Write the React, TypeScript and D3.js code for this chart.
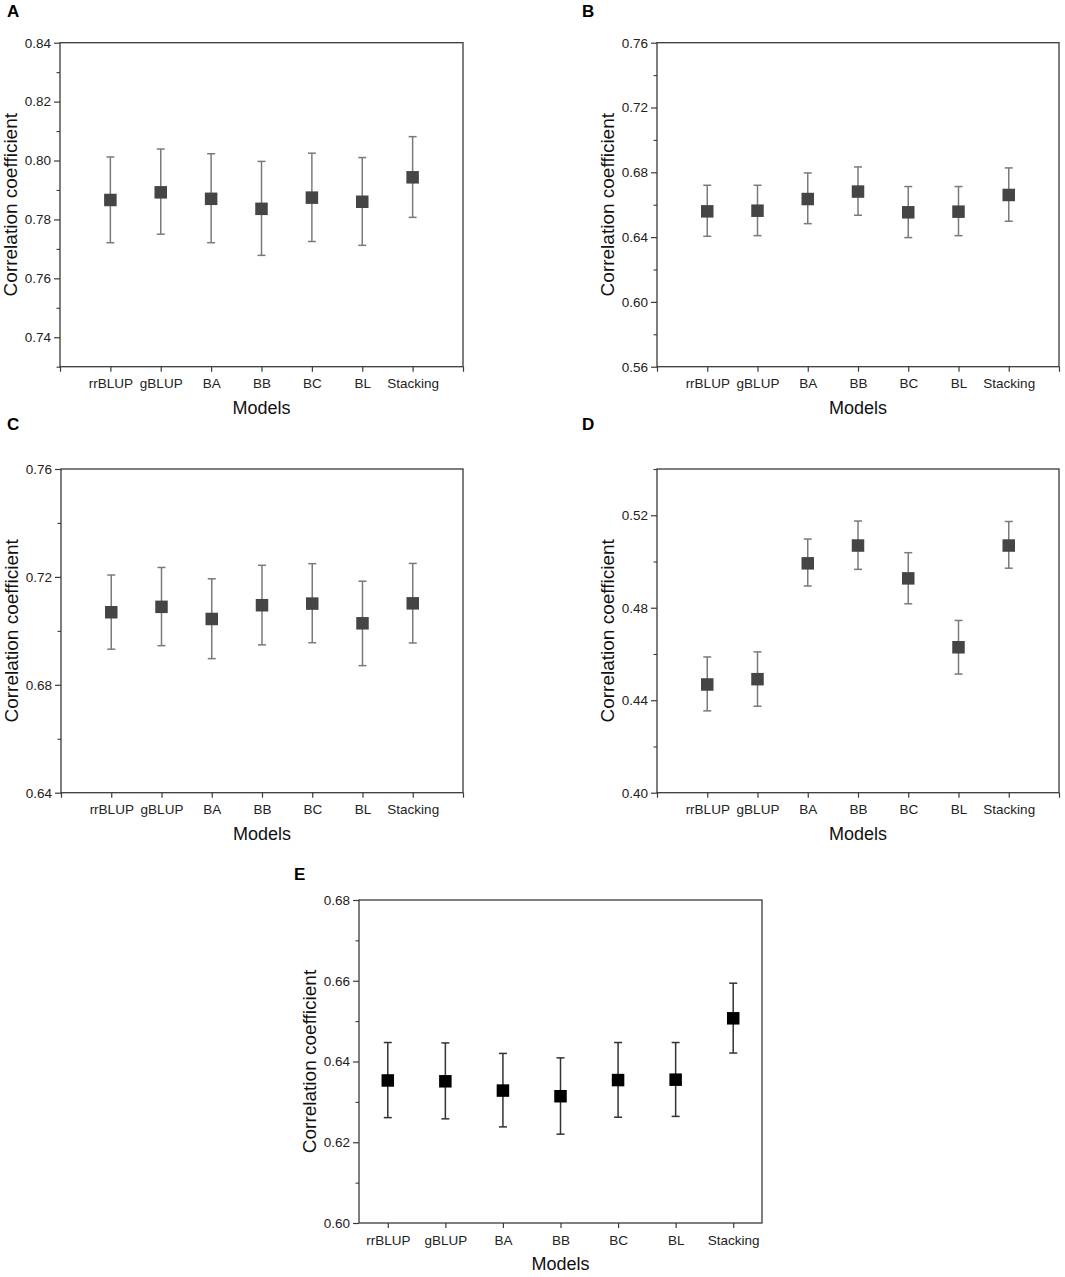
import React, { useEffect, useRef } from 'react';
import * as d3 from 'd3';

const models = ['rrBLUP', 'gBLUP', 'BA', 'BB', 'BC', 'BL', 'Stacking'];

// A
const meanA = [0.7866, 0.7892, 0.787, 0.7836, 0.7874, 0.786, 0.7943];
const upperA = [0.8012, 0.8039, 0.8023, 0.7997, 0.8025, 0.801, 0.8081];
const lowerA = [0.7721, 0.775, 0.7721, 0.7678, 0.7725, 0.7712, 0.7807];
const domainA = [0.73, 0.84];
const ticksA = [0.74, 0.76, 0.78, 0.8, 0.82, 0.84];
const minorA = [0.73, 0.75, 0.77, 0.79, 0.81, 0.83];

// B
const meanB = [0.6559, 0.6563, 0.6635, 0.6681, 0.6553, 0.6557, 0.666];
const upperB = [0.672, 0.672, 0.6796, 0.6833, 0.6712, 0.6712, 0.6827];
const lowerB = [0.6405, 0.6409, 0.6483, 0.6535, 0.6397, 0.6409, 0.6498];
const domainB = [0.56, 0.76];
const ticksB = [0.56, 0.6, 0.64, 0.68, 0.72, 0.76];
const minorB = [0.58, 0.62, 0.66, 0.7, 0.74];

// C
const meanC = [0.7069, 0.7089, 0.7044, 0.7095, 0.7101, 0.7028, 0.7102];
const upperC = [0.7207, 0.7235, 0.7193, 0.7243, 0.7249, 0.7184, 0.725];
const lowerC = [0.6932, 0.6945, 0.6897, 0.6948, 0.6956, 0.6871, 0.6955];
const domainC = [0.64, 0.76];
const ticksC = [0.64, 0.68, 0.72, 0.76];
const minorC = [0.66, 0.7, 0.74];

// D
const meanD = [0.4468, 0.4491, 0.4992, 0.5069, 0.4927, 0.4629, 0.5069];
const upperD = [0.4587, 0.4609, 0.5097, 0.5175, 0.5038, 0.4745, 0.5173];
const lowerD = [0.4354, 0.4374, 0.4894, 0.4966, 0.4817, 0.4513, 0.4971];
const domainD = [0.4, 0.54];
const ticksD = [0.4, 0.44, 0.48, 0.52];
const minorD = [0.42, 0.46, 0.5, 0.54];

// E
const meanE = [0.6353, 0.6351, 0.6328, 0.6314, 0.6354, 0.6355, 0.6507];
const upperE = [0.6447, 0.6446, 0.642, 0.6409, 0.6447, 0.6447, 0.6594];
const lowerE = [0.6261, 0.6258, 0.6238, 0.622, 0.6262, 0.6264, 0.6421];
const domainE = [0.6, 0.68];
const ticksE = [0.6, 0.62, 0.64, 0.66, 0.68];
const minorE = [0.61, 0.63, 0.65, 0.67];

const FONT = '"Liberation Sans", Arial, Helvetica, sans-serif';

interface PanelCfg {
  label: string;
  mean: number[];
  upper: number[];
  lower: number[];
  domain: number[];
  ticks: number[];
  minor: number[];
  box: { left: number; right: number; top: number; bottom: number };
  labelPos: [number, number];
  band: boolean;
  markerColor: string;
  barColor: string;
}

const panels: PanelCfg[] = [
  { label: 'A', mean: meanA, upper: upperA, lower: lowerA, domain: domainA, ticks: ticksA, minor: minorA,
    box: { left: 60, right: 463, top: 42.7, bottom: 366.7 }, labelPos: [7, 17], band: false,
    markerColor: '#454545', barColor: '#7a7a7a' },
  { label: 'B', mean: meanB, upper: upperB, lower: lowerB, domain: domainB, ticks: ticksB, minor: minorB,
    box: { left: 657, right: 1059, top: 42.7, bottom: 366.7 }, labelPos: [582, 17], band: false,
    markerColor: '#454545', barColor: '#7a7a7a' },
  { label: 'C', mean: meanC, upper: upperC, lower: lowerC, domain: domainC, ticks: ticksC, minor: minorC,
    box: { left: 61, right: 463, top: 469, bottom: 792.7 }, labelPos: [7, 430], band: false,
    markerColor: '#454545', barColor: '#7a7a7a' },
  { label: 'D', mean: meanD, upper: upperD, lower: lowerD, domain: domainD, ticks: ticksD, minor: minorD,
    box: { left: 657, right: 1059, top: 469, bottom: 792.7 }, labelPos: [582, 430], band: false,
    markerColor: '#454545', barColor: '#7a7a7a' },
  { label: 'E', mean: meanE, upper: upperE, lower: lowerE, domain: domainE, ticks: ticksE, minor: minorE,
    box: { left: 359, right: 762, top: 900, bottom: 1223 }, labelPos: [294, 880], band: true,
    markerColor: '#000000', barColor: '#333333' },
];

function drawPanel(svg: d3.Selection<SVGSVGElement, unknown, null, undefined>, cfg: PanelCfg) {
  const { left, right, top, bottom } = cfg.box;
  const g = svg.append('g').style('font-family', FONT);

  const x = d3.scaleLinear()
    .domain(cfg.band ? [0.5, models.length + 0.5] : [0, models.length + 1])
    .range([left, right]);
  const y = d3.scaleLinear().domain(cfg.domain).range([bottom, top]);

  // frame
  g.append('rect')
    .attr('x', left).attr('y', top)
    .attr('width', right - left).attr('height', bottom - top)
    .attr('fill', 'none').attr('stroke', '#3a3a3a').attr('stroke-width', 1.3);

  // y axis major
  const yAxis = g.append('g')
    .attr('transform', `translate(${left},0)`)
    .call(d3.axisLeft(y).tickValues(cfg.ticks).tickSize(6).tickPadding(3).tickFormat(d3.format('.2f')));
  yAxis.select('.domain').remove();
  yAxis.selectAll('line').attr('stroke', '#3a3a3a').attr('stroke-width', 1.2);
  yAxis.selectAll('text').attr('fill', '#222').style('font-size', '13.5px').style('font-family', FONT);

  // y axis minor
  const yMinor = g.append('g')
    .attr('transform', `translate(${left},0)`)
    .call(d3.axisLeft(y).tickValues(cfg.minor).tickSize(3.5).tickFormat(() => ''));
  yMinor.select('.domain').remove();
  yMinor.selectAll('line').attr('stroke', '#3a3a3a').attr('stroke-width', 1.1);

  // x axis
  const xVals = cfg.band ? d3.range(1, models.length + 1) : d3.range(0, models.length + 2);
  const xAxis = g.append('g')
    .attr('transform', `translate(0,${bottom})`)
    .call(d3.axisBottom(x).tickValues(xVals).tickSize(5).tickPadding(7)
      .tickFormat((d) => models[(d as number) - 1] ?? ''));
  xAxis.select('.domain').remove();
  xAxis.selectAll('line').attr('stroke', '#3a3a3a').attr('stroke-width', 1.2);
  xAxis.selectAll('text').attr('fill', '#222').style('font-size', '13.5px').style('font-family', FONT);

  // error bars
  const bars = g.append('g');
  models.forEach((m, i) => {
    const cx = x(i + 1);
    bars.append('line')
      .attr('x1', cx).attr('x2', cx)
      .attr('y1', y(cfg.lower[i])).attr('y2', y(cfg.upper[i]))
      .attr('stroke', cfg.barColor).attr('stroke-width', 1.5);
    [cfg.lower[i], cfg.upper[i]].forEach((v) => {
      bars.append('line')
        .attr('x1', cx - 4).attr('x2', cx + 4)
        .attr('y1', y(v)).attr('y2', y(v))
        .attr('stroke', cfg.barColor).attr('stroke-width', 1.5);
    });
  });

  // markers
  const size = 12.5;
  g.append('g').selectAll('rect')
    .data(cfg.mean)
    .join('rect')
    .attr('x', (_, i) => x(i + 1) - size / 2)
    .attr('y', (d) => y(d) - size / 2)
    .attr('width', size).attr('height', size)
    .attr('fill', cfg.markerColor);

  // axis titles
  g.append('text')
    .attr('transform', `translate(${left - 43},${(top + bottom) / 2}) rotate(-90)`)
    .attr('text-anchor', 'middle')
    .attr('fill', '#111')
    .style('font-size', '19px')
    .text('Correlation coefficient');

  g.append('text')
    .attr('x', (left + right) / 2)
    .attr('y', bottom + 47)
    .attr('text-anchor', 'middle')
    .attr('fill', '#111')
    .style('font-size', '18px')
    .text('Models');

  // panel letter
  g.append('text')
    .attr('x', cfg.labelPos[0])
    .attr('y', cfg.labelPos[1])
    .attr('fill', '#000')
    .style('font-size', '17px')
    .style('font-weight', 'bold')
    .text(cfg.label);
}

const App: React.FC = () => {
  const svgRef = useRef<SVGSVGElement>(null);

  useEffect(() => {
    document.body.style.margin = '0';
    if (!svgRef.current) return;
    const svg = d3.select(svgRef.current);
    svg.selectAll('*').remove();
    svg.append('rect').attr('width', 1065).attr('height', 1277).attr('fill', '#fff');
    panels.forEach((p) => drawPanel(svg, p));
  }, []);

  return <svg ref={svgRef} width={1065} height={1277} style={{ display: 'block' }} />;
};

export default App;
